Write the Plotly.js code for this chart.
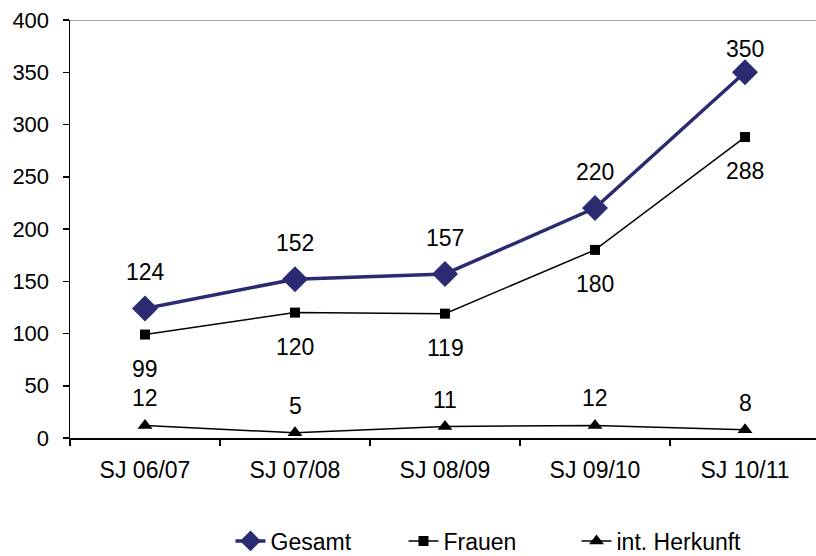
<!DOCTYPE html>
<html><head><meta charset="utf-8">
<script src="https://cdn.plot.ly/plotly-3.0.1.min.js"></script>
<style>body{margin:0;overflow:hidden;background:#fff}</style>
</head><body><div id="chart"></div>
<script>
var categories = ["SJ 06/07", "SJ 07/08", "SJ 08/09", "SJ 09/10", "SJ 10/11"];
var gesamt = [124, 152, 157, 220, 350];
var frauen = [99, 120, 119, 180, 288];
var herkunft = [12, 5, 11, 12, 8];
var seriesNames = ["Gesamt", "Frauen", "int. Herkunft"];

var navy = "#2b2b72";
var fam = "Liberation Sans, Arial, sans-serif";
var font = {family: fam, size: 23, color: "#000"};
var yfont = {family: fam, size: 22, color: "#000"};

var traces = [
  {x: categories, y: gesamt, name: seriesNames[0], type: "scatter", mode: "lines+markers",
   line: {color: navy, width: 3.5}, marker: {symbol: "diamond", size: 20, color: navy}},
  {x: categories, y: frauen, name: seriesNames[1], type: "scatter", mode: "lines+markers",
   line: {color: "#000", width: 1.5}, marker: {symbol: "square", size: 10, color: "#000"}},
  {x: categories, y: herkunft, name: seriesNames[2], type: "scatter", mode: "lines+markers",
   line: {color: "#000", width: 1.5}, marker: {symbol: "triangle-up", size: 13, color: "#000"}}
];

var ann = [];
var plotTop = 20, plotH = 418, yMax = 400;
function addLabels(vals, shift, limitTop) {
  vals.forEach(function (v, i) {
    var s = shift;
    if (limitTop) {
      var px = plotTop + plotH * (1 - v / yMax);
      if (px - s < 49) s = px - 49;
    }
    ann.push({x: categories[i], y: v, text: String(v), showarrow: false,
      yshift: s, font: font, xref: "x", yref: "y"});
  });
}
addLabels(gesamt, 36, true);
addLabels(frauen, -34, false);
addLabels(herkunft, 27, false);

var layout = {
  width: 830, height: 556,
  margin: {l: 70, r: 10, t: 20, b: 118},
  paper_bgcolor: "#fff", plot_bgcolor: "#fff",
  font: font,
  showlegend: true,
  legend: {orientation: "h", x: 0.214, xanchor: "left", yref: "container", y: 0.027,
    yanchor: "middle", font: font, entrywidth: 128, entrywidthmode: "pixels",
    tracegroupgap: 0},
  xaxis: {type: "category", range: [-0.5, 4.5], autorange: false, automargin: false,
    showgrid: false, zeroline: false, showline: true,
    linecolor: "#000", linewidth: 1.5, ticks: "outside", tickson: "boundaries",
    ticklen: 6, tickcolor: "#000", tickwidth: 1.5, ticklabelstandoff: 11,
    tickfont: font, fixedrange: true},
  yaxis: {range: [0, 400], autorange: false, automargin: false, dtick: 50,
    showgrid: false, zeroline: false, showline: true,
    linecolor: "#000", linewidth: 1.5, ticks: "outside", ticklen: 6, tickcolor: "#000",
    tickwidth: 1.5, ticklabelstandoff: 9, tickfont: yfont, fixedrange: true},
  shapes: [{type: "line", xref: "paper", yref: "y", x0: 0, x1: 1, y0: 400, y1: 400,
    line: {color: "#888", width: 1.5}}],
  annotations: ann
};
Plotly.newPlot("chart", traces, layout, {displayModeBar: false, staticPlot: true});
</script></body></html>
